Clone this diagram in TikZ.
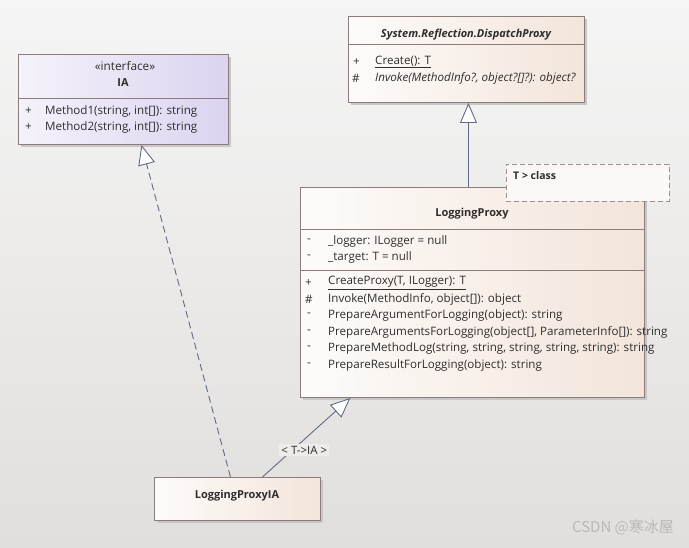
\documentclass[tikz,border=0pt]{standalone}
\usepackage{fontspec}
\setmainfont{Open Sans}
\newfontfamily\cjkfont{Noto Sans CJK SC}
\usetikzlibrary{arrows.meta, positioning, shadows, calc}
\definecolor{bgtop}{HTML}{F5F5F5}
\definecolor{bgbot}{HTML}{E1DFDD}
\definecolor{boxline}{HTML}{8C7C7C}
\definecolor{linkline}{HTML}{5F6B85}
\definecolor{txt}{HTML}{2E2E2E}
\definecolor{ifleft}{HTML}{F5F2FB}
\definecolor{ifright}{HTML}{DCD3F0}
\definecolor{clleft}{HTML}{FDFBFA}
\definecolor{clright}{HTML}{F3E5DA}
\definecolor{notefill}{HTML}{FCF8F5}
\tikzset{
	classbox/.style={rectangle, draw=boxline, line width=0.9pt, left color=clleft, right color=clright,
		drop shadow={shadow xshift=3pt, shadow yshift=-3pt, fill=black!22, opacity=1}, inner sep=0pt},
	ifacebox/.style={classbox, left color=ifleft, right color=ifright},
	notebox/.style={rectangle, draw=boxline!85, line width=0.9pt, dash pattern=on 5pt off 3pt,
		fill=notefill, inner sep=0pt},
	sepline/.style={draw=boxline, line width=0.9pt},
	member/.style={anchor=west, inner sep=0pt, font=\fontsize{11.6}{13}\selectfont, text=txt},
	classtitle/.style={inner sep=0pt, font=\fontsize{11}{13}\selectfont\bfseries, text=txt},
	inherit/.style={draw=linkline, line width=0.9pt, -{Triangle[length=20pt, width=17pt, fill=white]}},
	realize/.style={inherit, dash pattern=on 7pt off 4pt},
	linklabel/.style={fill=bgbot!60, inner sep=2pt, font=\fontsize{11.5}{13}\selectfont, text=txt},
}

\begin{document}
\begin{tikzpicture}[x=1pt, y=-1pt]
	\useasboundingbox (0,0) rectangle (689,547);
	\fill[top color=bgtop, bottom color=bgbot] (0,0) rectangle (689,547);

	% interface IA
	\node[ifacebox, minimum width=210pt, minimum height=90pt, anchor=north west](ia) at (18,54){};
	\draw[sepline] ($(ia.north west)+(0,44)$) -- ($(ia.north east)+(0,44)$);
	\node[classtitle, font=\fontsize{11.8}{13}\selectfont](iast) at (125,66){«interface»};
	\node[classtitle](iatitle) at (123,83){IA};
	\node[member] at (25,111){+};\node[member] at (45,111){Method1(string, int[]): string};
	\node[member] at (25,127){+};\node[member] at (45,127){Method2(string, int[]): string};

	% base class
	\node[classbox, minimum width=236pt, minimum height=86pt, anchor=north west](dp) at (348,16){};
	\draw[sepline] ($(dp.north west)+(0,28)$) -- ($(dp.north east)+(0,28)$);
	\node[classtitle, font=\fontsize{11}{13}\selectfont\bfseries\itshape](dptitle) at (466,35){System.Reflection.DispatchProxy};
	\node[member] at (353,62){+};\node[member] at (375,62){\underline{Create(): T}};
	\node[member] at (352,78){\#};\node[member] at (375,78){\itshape Invoke(MethodInfo?, object?[]?): object?};

	% LoggingProxy
	\node[classbox, minimum width=344pt, minimum height=210pt, anchor=north west](lp) at (300,187){};
	\draw[sepline] ($(lp.north west)+(0,42)$) -- ($(lp.north east)+(0,42)$);
	\draw[sepline] ($(lp.north west)+(0,83)$) -- ($(lp.north east)+(0,83)$);
	\node[classtitle](lptitle) at (472,214){LoggingProxy};
	\node[member] at (307,241){-};\node[member] at (328,241){\_logger: ILogger = null};
	\node[member] at (307,257){-};\node[member] at (328,257){\_target: T = null};
	\node[member] at (305,283){+};\node[member] at (328,283){\underline{CreateProxy(T, ILogger): T}};
	\node[member] at (305,299){\#};\node[member] at (328,299){Invoke(MethodInfo, object[]): object};
	\node[member] at (307,315){-};\node[member] at (328,315){PrepareArgumentForLogging(object): string};
	\node[member] at (307,332){-};\node[member] at (328,332){PrepareArgumentsForLogging(object[], ParameterInfo[]): string};
	\node[member] at (307,348){-};\node[member] at (328,348){PrepareMethodLog(string, string, string, string, string): string};
	\node[member] at (307,365){-};\node[member] at (328,365){PrepareResultForLogging(object): string};

	% constraint note
	\node[notebox, minimum width=163pt, minimum height=37pt, anchor=north west](note) at (506,164){};
	\node[member, font=\fontsize{10.5}{12}\selectfont\bfseries] at (513,176){T > class};

	% LoggingProxyIA
	\node[classbox, minimum width=166pt, minimum height=43pt, anchor=north west](lpia) at (154,477){};
	\node[classtitle](lpiatitle) at (237,496){LoggingProxyIA};

	% relations
	\draw[inherit]([xshift=-4pt]lp.north) -- ([xshift=-4pt]lp.north |- dp.south);
	\draw[realize]([xshift=-7pt]lpia.north) -- ([xshift=18pt]ia.south);
	\draw[inherit]([xshift=25pt]lpia.north) -- node[linklabel, pos=0.34, xshift=12pt]{< T->IA >} ([xshift=-122pt]lp.south);

	\node[font=\cjkfont\fontsize{15}{17}\selectfont, text=gray!55](mark) at (623,527){CSDN @寒冰屋};
\end{tikzpicture}
\end{document}
